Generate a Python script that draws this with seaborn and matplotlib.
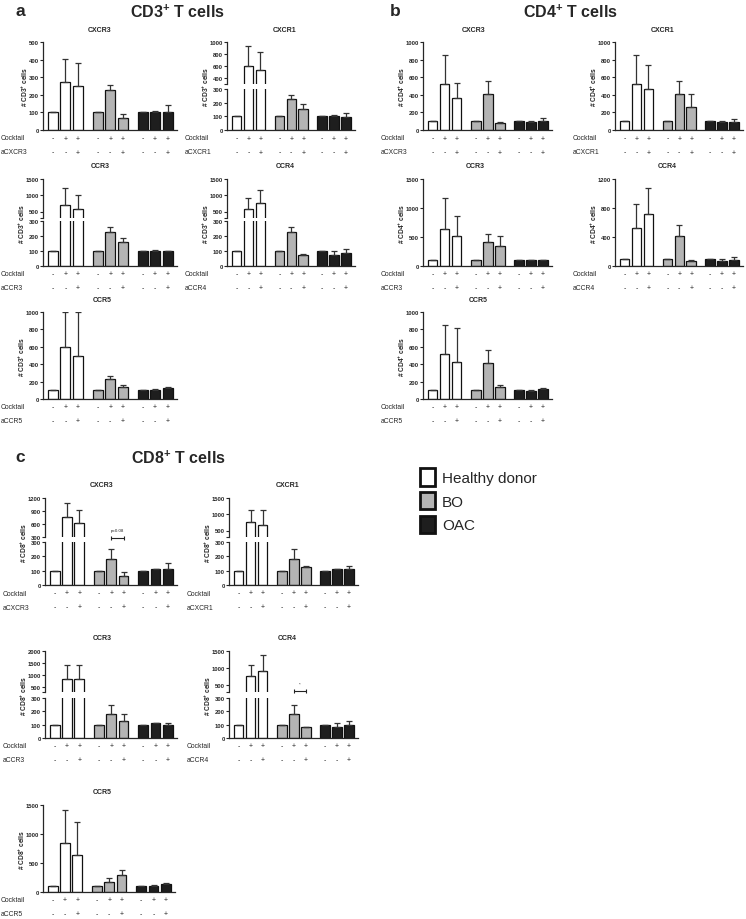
import numpy as np
import pandas as pd
import matplotlib.pyplot as plt
from matplotlib.patches import Patch
import seaborn as sns

# every panel has the same 9 bars: 3 donor groups x 3 conditions
positions = [0, 1, 2, 3.6, 4.6, 5.6, 7.2, 8.2, 9.2]
groups = ['Healthy donor'] * 3 + ['BO'] * 3 + ['OAC'] * 3
cocktail = ['-', '+', '+'] * 3
blocking = ['-', '-', '+'] * 3
group_colors = {'Healthy donor': '#ffffff', 'BO': '#b4b4b4', 'OAC': '#1e1e1e'}

# CD3+ T cells (bar height, top of error bar)
cd3_cxcr3 = [100, 275, 250, 100, 228, 68, 100, 100, 103]
cd3_cxcr3_top = [100, 405, 380, 100, 255, 90, 100, 110, 140]
cd3_cxcr1 = [100, 600, 530, 100, 230, 155, 100, 100, 97]
cd3_cxcr1_top = [100, 930, 830, 100, 258, 190, 100, 110, 125]
cd3_ccr3 = [100, 700, 590, 100, 228, 162, 100, 100, 97]
cd3_ccr3_top = [100, 1230, 1020, 100, 258, 188, 100, 110, 100]
cd3_ccr4 = [100, 590, 770, 100, 228, 75, 100, 72, 85]
cd3_ccr4_top = [100, 920, 1150, 100, 258, 80, 100, 100, 115]
cd3_ccr5 = [100, 600, 490, 100, 225, 140, 100, 105, 130]
cd3_ccr5_top = [100, 995, 995, 100, 260, 165, 100, 110, 135]

# CD4+ T cells
cd4_cxcr3 = [100, 520, 365, 100, 410, 75, 100, 95, 97]
cd4_cxcr3_top = [100, 850, 530, 100, 560, 90, 100, 105, 135]
cd4_cxcr1 = [100, 520, 465, 100, 410, 260, 100, 95, 92]
cd4_cxcr1_top = [100, 850, 740, 100, 560, 410, 100, 105, 120]
cd4_ccr3 = [100, 640, 510, 100, 415, 340, 100, 100, 100]
cd4_ccr3_top = [100, 1170, 860, 100, 560, 510, 100, 110, 100]
cd4_ccr4 = [100, 520, 715, 100, 415, 75, 100, 75, 85]
cd4_ccr4_top = [100, 850, 1070, 100, 560, 80, 100, 100, 120]
cd4_ccr5 = [100, 520, 430, 100, 410, 135, 100, 95, 120]
cd4_ccr5_top = [100, 850, 820, 100, 560, 165, 100, 105, 125]

# CD8+ T cells
cd8_cxcr3 = [100, 760, 620, 100, 178, 65, 100, 110, 112]
cd8_cxcr3_top = [100, 1080, 930, 100, 250, 90, 100, 115, 152]
cd8_cxcr1 = [100, 750, 680, 100, 178, 125, 100, 110, 110]
cd8_cxcr1_top = [100, 1130, 1120, 100, 250, 135, 100, 115, 132]
cd8_ccr3 = [100, 850, 820, 100, 178, 130, 100, 112, 97]
cd8_ccr3_top = [100, 1420, 1440, 100, 250, 180, 100, 115, 110]
cd8_ccr4 = [100, 760, 920, 100, 178, 85, 100, 85, 95]
cd8_ccr4_top = [100, 1100, 1380, 100, 250, 85, 100, 112, 125]
cd8_ccr5 = [100, 840, 645, 100, 175, 285, 100, 110, 145]
cd8_ccr5_top = [100, 1420, 1200, 100, 245, 375, 100, 115, 150]

W, H = 746, 920
sns.set_style('ticks')
plt.rcParams['font.family'] = ['Liberation Sans', 'DejaVu Sans']
plt.rcParams['mathtext.fontset'] = 'custom'
plt.rcParams['mathtext.rm'] = 'Liberation Sans'
plt.rcParams['mathtext.bf'] = 'Liberation Sans:bold'
plt.rcParams['mathtext.it'] = 'Liberation Sans:italic'
fig = plt.figure(figsize=(W / 100, H / 100), dpi=100)


def px_axes(x0, x1, y0, y1):
    return fig.add_axes([x0 / W, 1 - y1 / H, (x1 - x0) / W, (y1 - y0) / H])


def draw_bars(ax, mean, top, ylim, ticks, labels=None):
    df = pd.DataFrame({'pos': positions, 'value': mean, 'group': groups})
    sns.barplot(data=df, x='pos', y='value', hue='group', palette=group_colors,
                native_scale=True, dodge=False, width=0.8, saturation=1,
                edgecolor='#111111', linewidth=0.9, errorbar=None,
                legend=False, ax=ax)
    mean = np.array(mean, dtype=float)
    top = np.array(top, dtype=float)
    pos = np.array(positions)
    keep = top > ylim[0] + 5
    ax.errorbar(pos[keep], mean[keep],
                yerr=[np.zeros(keep.sum()), (top - mean)[keep]], fmt='none',
                ecolor='#333333', elinewidth=0.9, capsize=2.4, capthick=0.9)
    ax.set_xlim(-0.8, 9.95)
    ax.set_ylim(*ylim)
    ax.set_yticks(ticks)
    if labels is not None:
        ax.set_yticklabels(labels)
    ax.set_xticks([])
    ax.set_xlabel('')
    ax.set_ylabel('')
    for s in ['top', 'right']:
        ax.spines[s].set_visible(False)
    for s in ['left', 'bottom']:
        ax.spines[s].set_linewidth(0.9)
    ax.tick_params(axis='y', length=2, width=0.8, pad=1, labelsize=4.2)
    for t in ax.get_yticklabels():
        t.set_fontweight('bold')


def panel(x0, x1, mean, top, title, title_x, cell, ab, lower, upper=None):
    # lower = (y0, y1, ylim, ticks); upper adds labels for the broken axis
    ly0, ly1, lylim, lticks = lower
    ax = px_axes(x0, x1, ly0, ly1)
    draw_bars(ax, mean, top, lylim, lticks)
    y_top = ly0
    axu = None
    widest = max(len(str(t)) for t in lticks)
    if upper is not None:
        uy0, uy1, uylim, uticks, ulabels = upper
        axu = px_axes(x0, x1, uy0, uy1)
        draw_bars(axu, mean, top, uylim, uticks, ulabels)
        axu.spines['bottom'].set_visible(False)
        y_top = uy0
        widest = max(widest, max(len(str(t)) for t in uticks))
    fig.text(title_x / W, 1 - (y_top - 13) / H, title, ha='center',
             va='center', fontsize=5, fontweight='bold')
    lab_dx = 21 if widest >= 4 else 18
    fig.text((x0 - lab_dx) / W, 1 - (y_top + ly1) / 2 / H,
             r'# CD%s$^\mathbf{+}$ cells' % cell, rotation=90, ha='center',
             va='center', fontsize=4.8, fontweight='bold')
    # condition rows under the bars
    for row, (name, signs) in enumerate([('Cocktail', cocktail), (ab, blocking)]):
        dy = -8 - 14 * row
        ax.annotate(name, xy=(0, 0), xycoords='axes fraction',
                    xytext=(-42 * 0.72, dy * 0.72), textcoords='offset points',
                    ha='left', va='center', fontsize=4.9, annotation_clip=False)
        for p, s in zip(positions, signs):
            ax.annotate(s, xy=(p, 0), xycoords=('data', 'axes fraction'),
                        xytext=(0, dy * 0.72), textcoords='offset points',
                        ha='center', va='center', fontsize=5,
                        annotation_clip=False)
    return ax, axu


def bracket(ax, y, text, ty):
    xs = [positions[4], positions[5]]
    ax.plot(xs, [y, y], color='#222222', lw=0.8, clip_on=False)
    ax.plot(xs, [y, y], ls='none', marker='|', ms=3.5, mew=0.8,
            color='#222222', clip_on=False)
    ax.text(np.mean(xs), ty, text, ha='center', va='center', fontsize=3.2)


# panel a: CD3
panel(43, 177, cd3_cxcr3, cd3_cxcr3_top, 'CXCR3', 100, 3, 'aCXCR3',
      (43, 131, (0, 500), [0, 100, 200, 300, 400, 500]))
panel(227, 355, cd3_cxcr1, cd3_cxcr1_top, 'CXCR1', 285, 3, 'aCXCR1',
      (90, 131, (0, 300), [0, 100, 200, 300]),
      (43, 85, (300, 1000), [300, 400, 600, 800, 1000], ['', '400', '600', '800', '1000']))
panel(43, 177, cd3_ccr3, cd3_ccr3_top, 'CCR3', 100, 3, 'aCCR3',
      (222, 267, (0, 300), [0, 100, 200, 300]),
      (180, 219, (300, 1500), [300, 500, 1000, 1500], ['', '500', '1000', '1500']))
panel(227, 355, cd3_ccr4, cd3_ccr4_top, 'CCR4', 285, 3, 'aCCR4',
      (222, 267, (0, 300), [0, 100, 200, 300]),
      (180, 219, (300, 1500), [300, 500, 1000, 1500], ['', '500', '1000', '1500']))
panel(43, 177, cd3_ccr5, cd3_ccr5_top, 'CCR5', 102, 3, 'aCCR5',
      (313, 400, (0, 1000), [0, 200, 400, 600, 800, 1000]))

# panel b: CD4
panel(423, 552, cd4_cxcr3, cd4_cxcr3_top, 'CXCR3', 474, 4, 'aCXCR3',
      (43, 131, (0, 1000), [0, 200, 400, 600, 800, 1000]))
panel(615, 743, cd4_cxcr1, cd4_cxcr1_top, 'CXCR1', 663, 4, 'aCXCR1',
      (43, 131, (0, 1000), [0, 200, 400, 600, 800, 1000]))
panel(423, 552, cd4_ccr3, cd4_ccr3_top, 'CCR3', 475, 4, 'aCCR3',
      (180, 267, (0, 1500), [0, 500, 1000, 1500]))
panel(615, 743, cd4_ccr4, cd4_ccr4_top, 'CCR4', 667, 4, 'aCCR4',
      (180, 267, (0, 1200), [0, 400, 800, 1200]))
panel(423, 552, cd4_ccr5, cd4_ccr5_top, 'CCR5', 478, 4, 'aCCR5',
      (313, 400, (0, 1000), [0, 200, 400, 600, 800, 1000]))

# panel c: CD8
_, axu = panel(45, 177, cd8_cxcr3, cd8_cxcr3_top, 'CXCR3', 102, 8, 'aCXCR3',
               (543, 586, (0, 300), [0, 100, 200, 300]),
               (499, 538, (300, 1200), [300, 600, 900, 1200], None))
bracket(axu, 285, 'p=0.08', 450)
panel(229, 358, cd8_cxcr1, cd8_cxcr1_top, 'CXCR1', 288, 8, 'aCXCR1',
      (543, 586, (0, 300), [0, 100, 200, 300]),
      (499, 538, (300, 1500), [300, 500, 1000, 1500], ['', '500', '1000', '1500']))
panel(45, 177, cd8_ccr3, cd8_ccr3_top, 'CCR3', 102, 8, 'aCCR3',
      (699, 739, (0, 300), [0, 100, 200, 300]),
      (652, 693, (300, 2000), [300, 500, 1000, 1500, 2000], ['', '500', '1000', '1500', '2000']))
_, axu = panel(229, 358, cd8_ccr4, cd8_ccr4_top, 'CCR4', 287, 8, 'aCCR4',
               (699, 739, (0, 300), [0, 100, 200, 300]),
               (652, 693, (300, 1500), [300, 500, 1000, 1500], ['', '500', '1000', '1500']))
bracket(axu, 330, '*', 540)
panel(43, 175, cd8_ccr5, cd8_ccr5_top, 'CCR5', 102, 8, 'aCCR5',
      (806, 893, (0, 1500), [0, 500, 1000, 1500]))

# section headers
for letter, lx, head, hx, hy in [('a', 20, r'CD3$^\mathbf{+}$ T cells', 177, 12),
                                 ('b', 395, r'CD4$^\mathbf{+}$ T cells', 570, 12),
                                 ('c', 20, r'CD8$^\mathbf{+}$ T cells', 178, 458)]:
    fig.text(lx / W, 1 - hy / H, letter, ha='center', va='center',
             fontsize=12.5, fontweight='bold')
    fig.text(hx / W, 1 - hy / H, head, ha='center', va='center',
             fontsize=11.5, fontweight='bold')

handles = [Patch(facecolor=group_colors[g], edgecolor='#111111', linewidth=2)
           for g in group_colors]
fig.legend(handles, list(group_colors), loc='upper left',
           bbox_to_anchor=(420 / W, 1 - 469 / H), frameon=False, fontsize=11,
           handlelength=1.0, handleheight=1.4, labelspacing=0.4,
           handletextpad=0.45, borderpad=0, borderaxespad=0)

fig.savefig('out.png', dpi=100)
